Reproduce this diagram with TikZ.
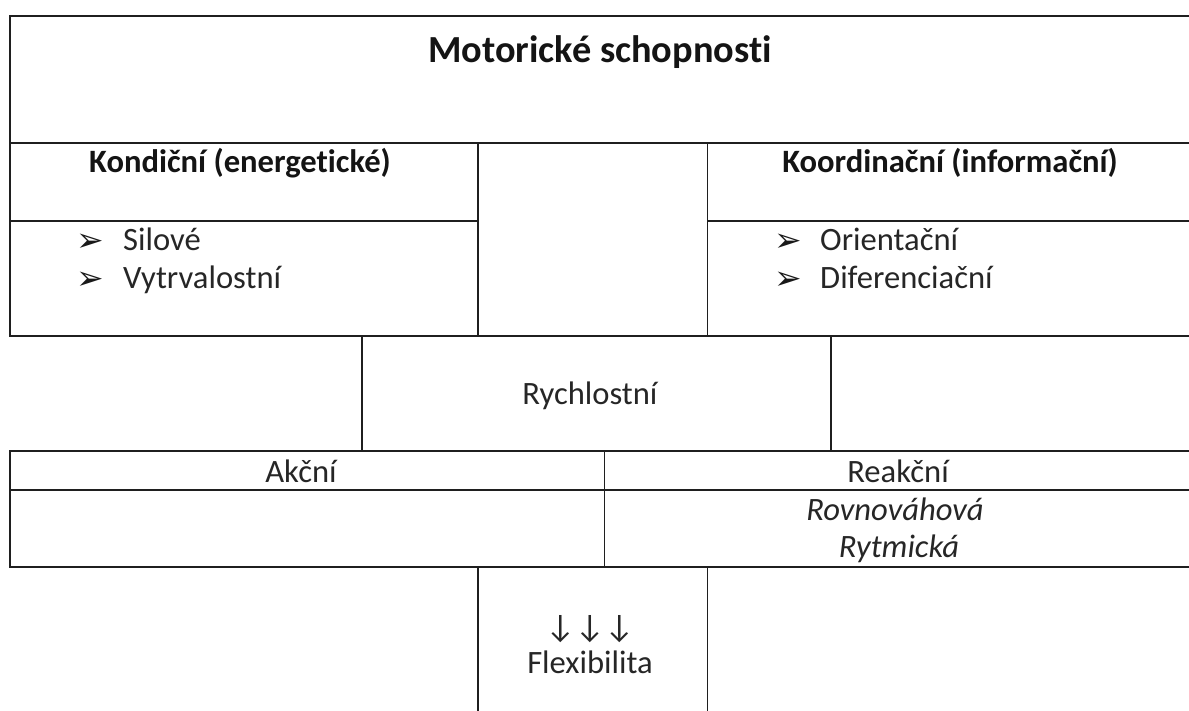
\documentclass[tikz,border=0pt]{standalone}
\usepackage{fontspec}
\setmainfont{Carlito}[Ligatures={NoCommon}]
\newfontfamily\symfont{DejaVu Sans}
\begin{document}
\begin{tikzpicture}[x=1pt,y=-1pt,
  rule/.style={draw=black!88, line width=1.3pt},
  title/.style={font=\fontsize{38.3}{44}\selectfont\bfseries, text=black!92, anchor=base, inner sep=0pt},
  head/.style={font=\fontsize{32.6}{38}\selectfont\bfseries, text=black!92, anchor=base, inner sep=0pt},
  body/.style={font=\fontsize{32.6}{38}\selectfont, text=black!85, anchor=base, inner sep=0pt},
  bodyl/.style={body, anchor=base west},
  bul/.style={font=\symfont\fontsize{33}{38}\selectfont, text=black!90, anchor=base west, inner sep=0pt},
  ital/.style={body, font=\fontsize{32.6}{38}\selectfont\itshape}
]
\useasboundingbox (0,0) rectangle (1189,711);
\fill[white] (0,0) rectangle (1189,711);

% cells
\draw[rule] (10,16) rectangle (1200,143);
\draw[rule] (10,143) rectangle (478,336);
\draw[rule] (10,221) -- (478,221);
\draw[rule] (478,143) rectangle (707.5,336);
\draw[rule] (707.5,143) rectangle (1200,336);
\draw[rule] (707.5,221) -- (1200,221);
\draw[rule] (362,336) rectangle (831,451);
\draw[rule] (10,451) rectangle (604.5,567);
\draw[rule] (10,490) -- (604.5,490);
\draw[rule] (604.5,451) rectangle (1200,567);
\draw[rule] (604.5,490) -- (1200,490);
\draw[rule] (478,567) rectangle (707.5,725);

% texts
\node[title] (ms) at (600,63) {Motorické schopnosti};
\node[head] (kon) at (240,173) {Kondiční (energetické)};
\node[head] (koo) at (950,173) {Koordinační (informační)};

\node[bul] (b1) at (76,252) {➢};
\node[bodyl] (sil) at (123,251) {Silové};
\node[bul] (b2) at (76,290) {➢};
\node[bodyl] (vyt) at (123,289) {Vytrvalostní};

\node[bul] (b3) at (774,252) {➢};
\node[bodyl] (ori) at (820,251) {Orientační};
\node[bul] (b4) at (774,290) {➢};
\node[bodyl] (dif) at (820,289) {Diferenciační};

\node[body] (ry) at (590,404) {Rychlostní};
\node[body] (ak) at (301,482) {Akční};
\node[body] (re) at (898,482) {Reakční};
\node[ital] (rov) at (895,520) {Rovnováhová};
\node[ital] (ryt) at (899,557) {Rytmická};
\node[body] (ar) at (590,637) {↓↓↓};
\node[body] (fl) at (590,673) {Flexibilita};
\end{tikzpicture}
\end{document}
